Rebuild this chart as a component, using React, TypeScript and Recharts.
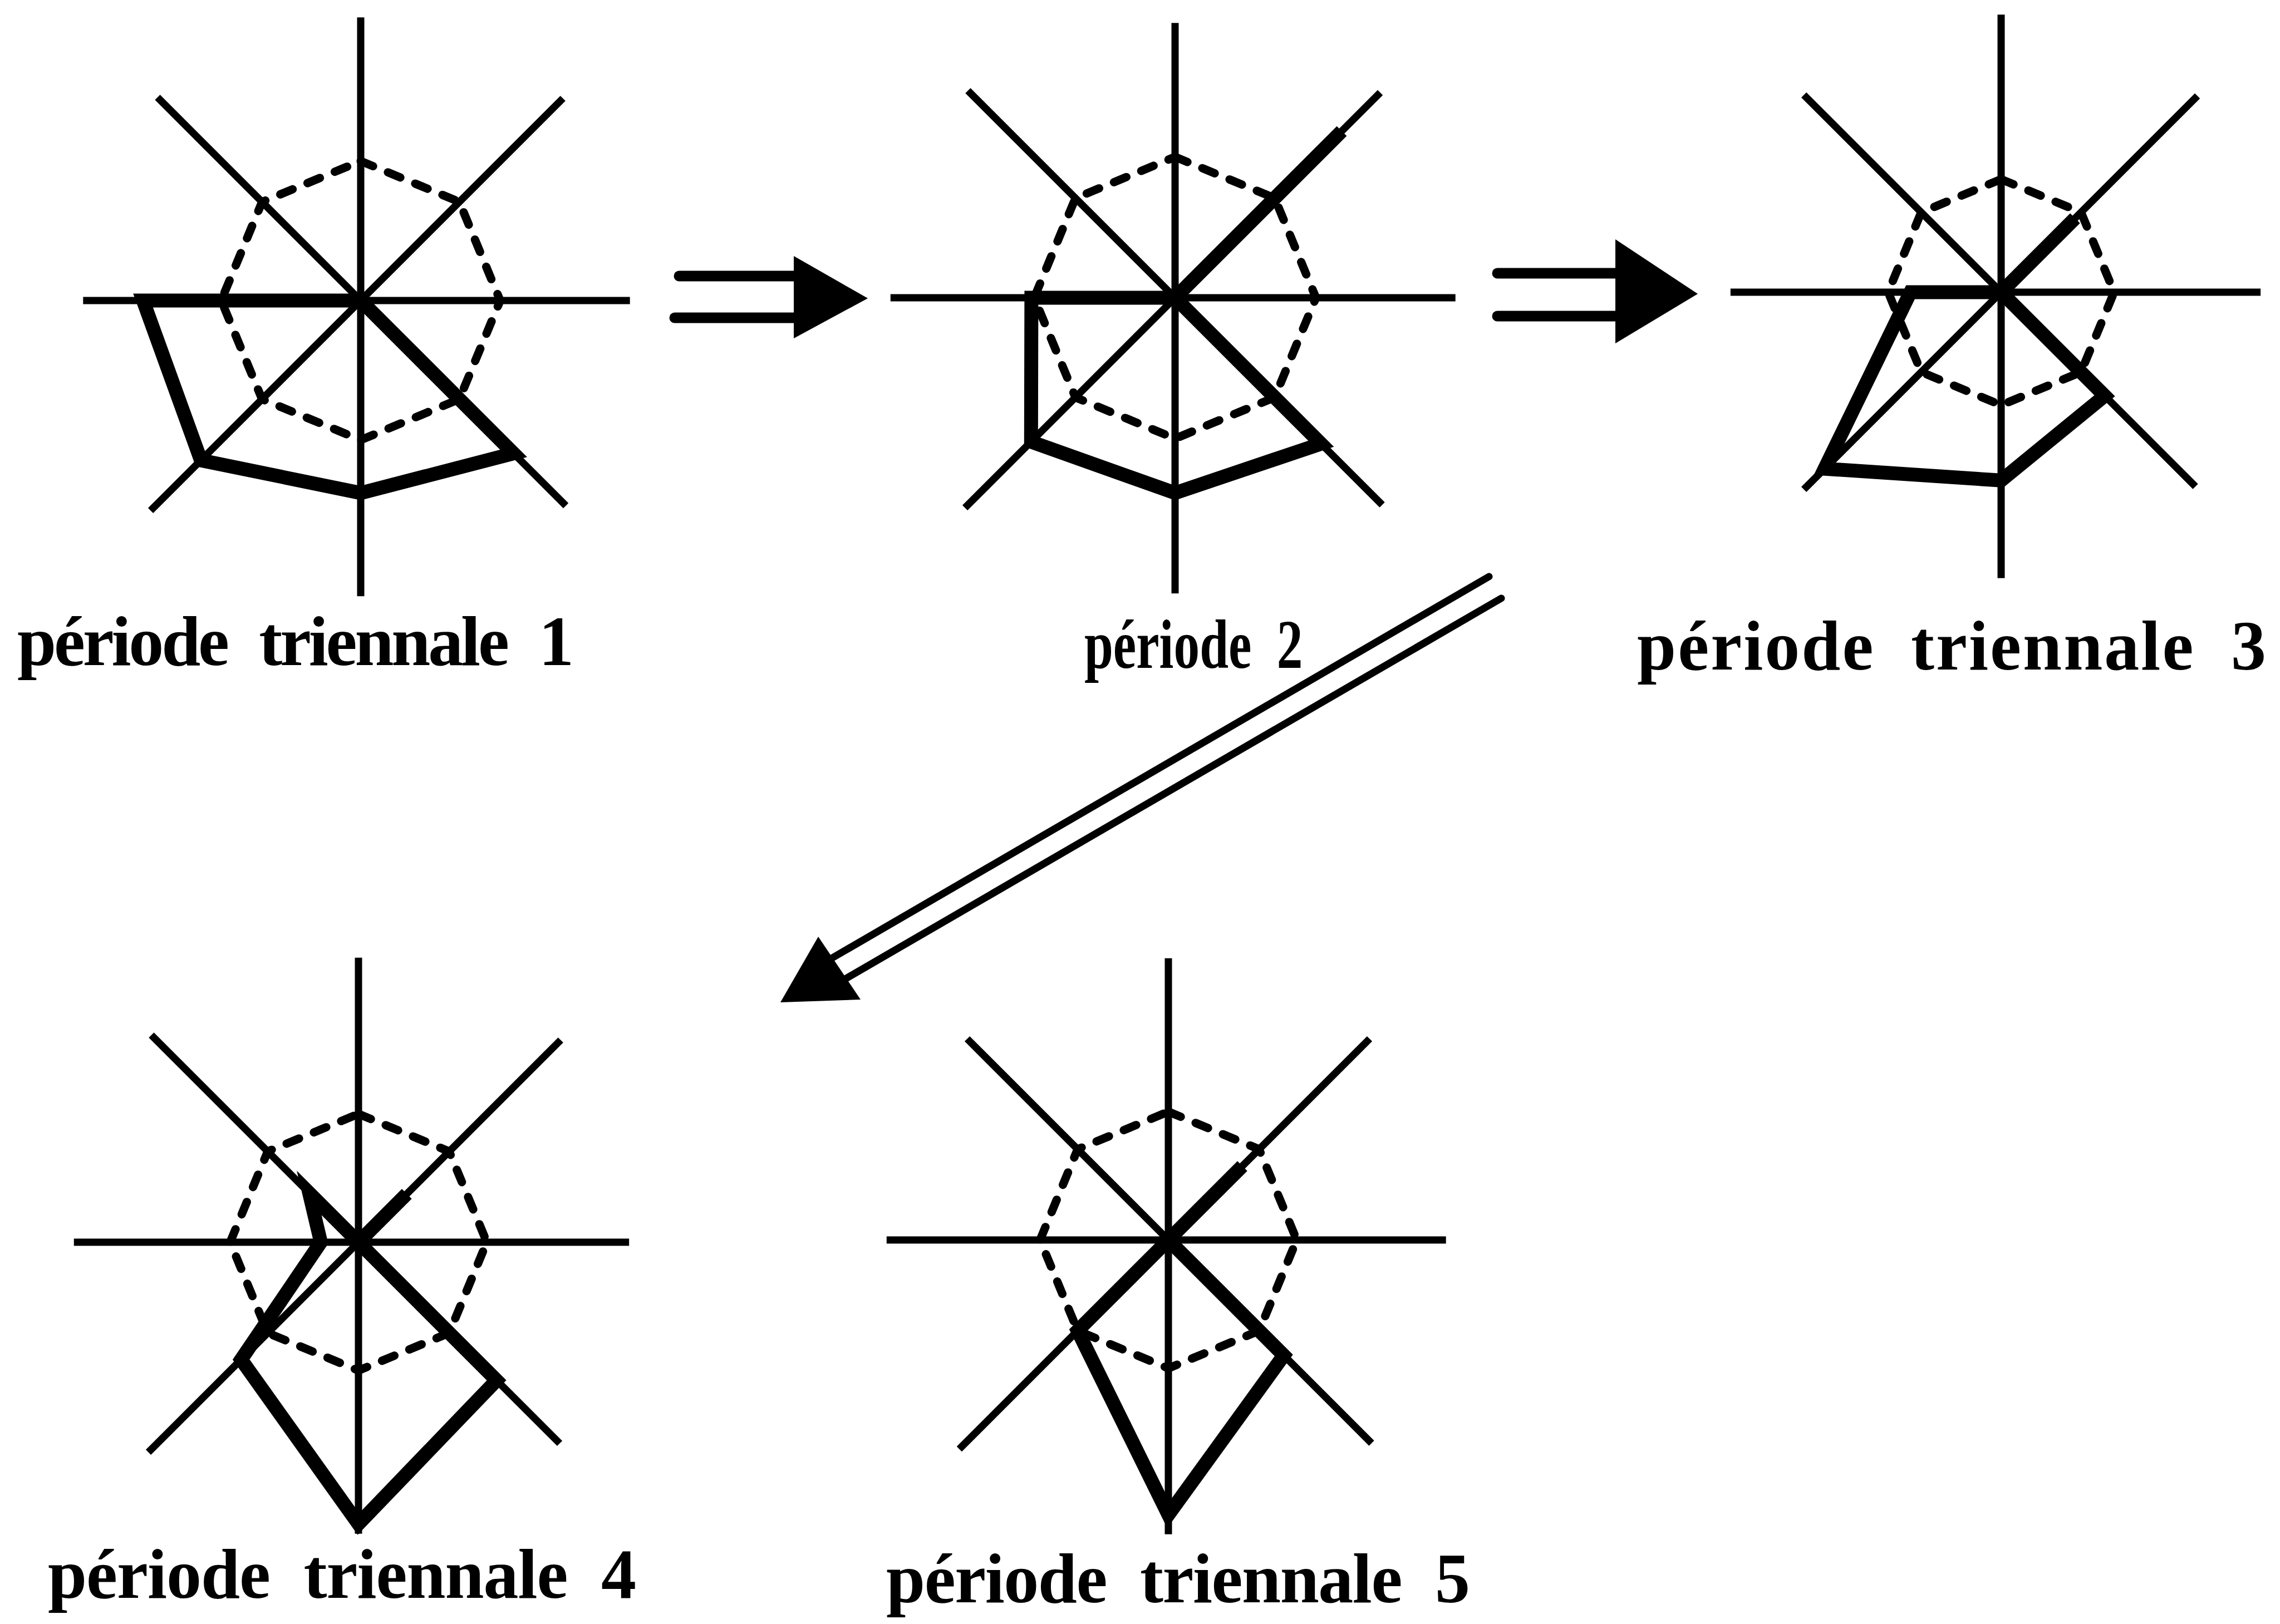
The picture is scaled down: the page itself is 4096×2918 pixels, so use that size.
import React from 'react';
import { RadarChart, Radar, PolarAngleAxis, PolarRadiusAxis } from 'recharts';

// eight directions, clockwise from the top
const directions = ['N', 'NE', 'E', 'SE', 'S', 'SW', 'W', 'NW'];

const periodLabels = [
  'période triennale 1',
  'période 2',
  'période triennale 3',
  'période triennale 4',
  'période triennale 5',
];

// dashed reference octagon level (unit: period 1 reference = 100)
const referenceLevel = [100, 101, 81, 92, 92];

// thick profile per period, N NE E SE S SW W NW
const period1 = [0, 0, 0, 155, 138, 162, 156, 0];
const period2 = [0, 169, 0, 148, 140, 146, 103, 0];
const period3 = [0, 75, 0, 105, 135, 179, 65, 0];
const period4 = [0, 49, 0, 140, 202, 119, 27, 50];
const period5 = [0, 75, 0, 117, 197, 92, 0, 0];

// axis spoke lengths, same order
const spokes1 = [203, 205, 193, 208, 212, 213, 199, 206];
const spokes2 = [197, 208, 201, 210, 212, 213, 204, 210];
const spokes3 = [199, 199, 186, 197, 205, 200, 194, 200];
const spokes4 = [204, 205, 194, 204, 209, 213, 204, 210];
const spokes5 = [202, 204, 199, 206, 211, 212, 202, 204];

const periods = [period1, period2, period3, period4, period5];
const spokes = [spokes1, spokes2, spokes3, spokes4, spokes5];

// layout (output px)
const DOMAIN_MAX = 220;
const UNIT = 2.506;
const BOX = 1160;
const centers = [
  [648, 540],
  [2111, 535],
  [3595, 525],
  [644, 2232],
  [2099, 2228],
];
// sx < 1 squeezes the narrower typeface of the "période 2" caption
const labelPos = [
  { x: 31, y: 1195, w: 1000, sx: 1 },
  { x: 1948, y: 1200, w: 0, sx: 0.74 },
  { x: 2941, y: 1203, w: 1130, sx: 1 },
  { x: 86, y: 2871, w: 1057, sx: 1 },
  { x: 1592, y: 2879, w: 1049, sx: 1 },
];

function buildRows(values: number[], ref: number, sp: number[]) {
  return directions.map((dir, i) => {
    const row: any = { dir, ref, value: values[i] };
    sp.forEach((len, j) => {
      row['s' + j] = i === j ? len : 0;
    });
    return row;
  });
}

function Star({ index }: { index: number }) {
  const data = buildRows(periods[index], referenceLevel[index], spokes[index]);
  const [x, y] = centers[index];
  return (
    <div style={{ position: 'absolute', left: x - BOX / 2, top: y - BOX / 2, width: BOX, height: BOX }}>
      <RadarChart
        width={BOX}
        height={BOX}
        data={data}
        cx={BOX / 2}
        cy={BOX / 2}
        outerRadius={DOMAIN_MAX * UNIT}
        margin={{ top: 0, right: 0, bottom: 0, left: 0 }}
      >
        <PolarAngleAxis dataKey="dir" tick={false} axisLine={false} tickLine={false} />
        <PolarRadiusAxis domain={[0, DOMAIN_MAX]} tick={false} axisLine={false} tickLine={false} />
        {directions.map((d, j) => (
          <Radar
            key={d}
            dataKey={'s' + j}
            stroke="#000"
            strokeWidth={13}
            strokeLinecap="round"
            fill="none"
            dot={false}
            isAnimationActive={false}
          />
        ))}
        <Radar
          dataKey="ref"
          stroke="#000"
          strokeWidth={15}
          strokeDasharray="24 29"
          strokeLinecap="round"
          fill="none"
          dot={false}
          isAnimationActive={false}
        />
        <Radar
          dataKey="value"
          stroke="#000"
          strokeWidth={25}
          strokeLinejoin="miter"
          fill="none"
          dot={false}
          isAnimationActive={false}
        />
      </RadarChart>
    </div>
  );
}

function Overlay() {
  return (
    <svg
      width={4096}
      height={2918}
      style={{ position: 'absolute', left: 0, top: 0, pointerEvents: 'none' }}
    >
      {/* arrow 1 */}
      <line x1={1220} y1={496} x2={1432} y2={496} stroke="#000" strokeWidth={19} strokeLinecap="round" />
      <line x1={1212} y1={571} x2={1432} y2={571} stroke="#000" strokeWidth={19} strokeLinecap="round" />
      <polygon points="1426,460 1426,608 1559,536" fill="#000" />
      {/* arrow 2 */}
      <line x1={2690} y1={491} x2={2908} y2={491} stroke="#000" strokeWidth={19} strokeLinecap="round" />
      <line x1={2690} y1={568} x2={2908} y2={568} stroke="#000" strokeWidth={19} strokeLinecap="round" />
      <polygon points="2902,430 2902,617 3050,528" fill="#000" />
      {/* arrow 3 */}
      <line x1={2675} y1={1036} x2={1492} y2={1723} stroke="#000" strokeWidth={13} strokeLinecap="round" />
      <line x1={2697} y1={1075} x2={1515} y2={1761} stroke="#000" strokeWidth={13} strokeLinecap="round" />
      <polygon points="1470,1683 1546,1796 1402,1801" fill="#000" />
      {periodLabels.map((t, i) => {
        const p = labelPos[i];
        const fit: any = p.w ? { textLength: p.w, lengthAdjust: 'spacing' } : {};
        return (
          <text
            key={t + i}
            x={0}
            y={0}
            transform={`translate(${p.x},${p.y}) scale(${p.sx},1)`}
            fontFamily="'Liberation Serif', 'Times New Roman', serif"
            fontWeight="bold"
            fontSize={126}
            wordSpacing={30}
            fill="#000"
            {...fit}
          >
            {t}
          </text>
        );
      })}
    </svg>
  );
}

export default function App() {
  return (
    <div
      style={{
        position: 'absolute',
        left: 0,
        top: 0,
        width: 4096,
        height: 2918,
        background: '#fff',
        overflow: 'hidden',
      }}
    >
      {periods.map((_, i) => (
        <Star key={i} index={i} />
      ))}
      <Overlay />
    </div>
  );
}
